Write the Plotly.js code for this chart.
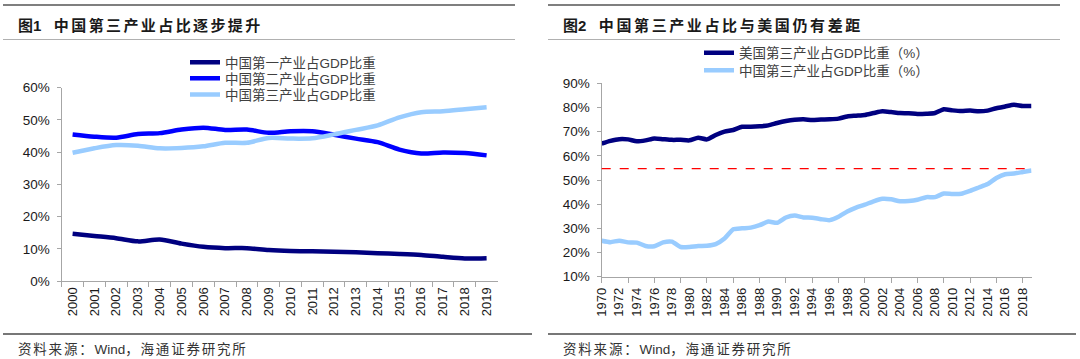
<!DOCTYPE html>
<html>
<head>
<meta charset="utf-8">
<script src="https://cdn.plot.ly/plotly-3.0.1.min.js"></script>
<style>
html,body{margin:0;padding:0;background:#fff;}
#chart{width:1080px;height:359px;}
</style>
</head>
<body>
<div id="chart"></div>
<script>
// ---------- Data: Figure 1 (China GDP structure, %) ----------
const years1 = ['2000','2001','2002','2003','2004','2005','2006','2007','2008','2009',
                '2010','2011','2012','2013','2014','2015','2016','2017','2018','2019'];
const primaryShare   = [14.7,14.0,13.3,12.3,12.9,11.6,10.6,10.2,10.2,9.6,9.3,9.2,9.1,8.9,8.6,8.4,8.1,7.5,7.0,7.1];
const secondaryShare = [45.5,44.8,44.5,45.6,45.9,47.0,47.6,46.9,47.0,46.0,46.5,46.5,45.4,44.2,43.1,40.8,39.6,39.9,39.7,39.0];
const tertiaryShare  = [39.8,41.2,42.2,42.0,41.2,41.3,41.8,42.9,42.9,44.4,44.2,44.3,45.5,46.9,48.3,50.8,52.4,52.7,53.3,53.9];
const names1 = ['中国第一产业占GDP比重','中国第二产业占GDP比重','中国第三产业占GDP比重'];

// ---------- Data: Figure 2 (tertiary share, US vs China, %) ----------
const years2 = [1970,1971,1972,1973,1974,1975,1976,1977,1978,1979,
                1980,1981,1982,1983,1984,1985,1986,1987,1988,1989,
                1990,1991,1992,1993,1994,1995,1996,1997,1998,1999,
                2000,2001,2002,2003,2004,2005,2006,2007,2008,2009,
                2010,2011,2012,2013,2014,2015,2016,2017,2018,2019];
const usTertiary = [65.1,66.2,66.9,66.8,66.0,66.4,67.2,66.9,66.6,66.6,
                    66.4,67.5,66.8,68.6,70.0,70.7,72.0,72.0,72.2,72.6,
                    73.6,74.4,74.9,75.1,74.8,75.0,75.1,75.4,76.3,76.6,
                    76.9,77.7,78.4,78.1,77.7,77.6,77.3,77.4,77.7,79.3,
                    78.8,78.5,78.7,78.4,78.7,79.7,80.4,81.1,80.6,80.6];
const cnTertiary = [24.9,24.3,24.9,24.2,24.1,22.7,22.6,24.2,24.5,22.3,
                    22.3,22.7,22.8,23.5,25.8,29.6,30.0,30.3,31.3,32.8,
                    32.3,34.5,35.3,34.5,34.4,33.8,33.4,34.8,37.0,38.6,
                    39.8,41.2,42.2,42.0,41.2,41.3,41.8,42.9,42.9,44.4,
                    44.2,44.3,45.5,46.9,48.3,50.8,52.4,52.7,53.3,53.9];
const refLevel = [54.7];
const names2 = ['美国第三产业占GDP比重（%）','中国第三产业占GDP比重（%）'];

// ---------- Text ----------
const title1 = ['图1','中国第三产业占比逐步提升'];
const title2 = ['图2','中国第三产业占比与美国仍有差距'];
const sourceParts = ['资料来源：','Wind','，海通证券研究所'];

// ---------- Styles ----------
const FONT = 'Liberation Sans, Arial, Noto Sans CJK SC, sans-serif';
const CJK = 'Liberation Sans, Noto Sans CJK SC, sans-serif';
const NAVY = '#000080', BLUE = '#0000FF', LIGHT = '#99CCFF';
const AX = '#a6a6a6';
const W = 1080, H = 359;
const px = v => v / W;
const py = v => 1 - v / H;

const traces = [
  {x: years1, y: primaryShare, name: names1[0], type:'scatter', mode:'lines',
   line:{color:NAVY, width:4.5, shape:'spline', smoothing:0.8}, xaxis:'x', yaxis:'y', legend:'legend'},
  {x: years1, y: secondaryShare, name: names1[1], type:'scatter', mode:'lines',
   line:{color:BLUE, width:4.5, shape:'spline', smoothing:0.8}, xaxis:'x', yaxis:'y', legend:'legend2'},
  {x: years1, y: tertiaryShare, name: names1[2], type:'scatter', mode:'lines',
   line:{color:LIGHT, width:4.5, shape:'spline', smoothing:0.8}, xaxis:'x', yaxis:'y', legend:'legend3'},
  {x: years2, y: usTertiary, name: names2[0], type:'scatter', mode:'lines',
   line:{color:NAVY, width:4.5, shape:'spline', smoothing:0.6}, xaxis:'x2', yaxis:'y2', legend:'legend4'},
  {x: years2, y: cnTertiary, name: names2[1], type:'scatter', mode:'lines',
   line:{color:LIGHT, width:4.5, shape:'spline', smoothing:0.6}, xaxis:'x3', yaxis:'y2', legend:'legend5'}
];

const tickFontY = {family: FONT, size: 13.5, color:'#1a1a1a'};
const tickFontX = {family: FONT, size: 13, color:'#1a1a1a'};

function legendAt(xLeft, rowCenter) {
  return {
    x:px(xLeft), xanchor:'left', y:py(rowCenter - 14), yanchor:'top',
    bgcolor:'rgba(0,0,0,0)', borderwidth:0, tracegroupgap:0,
    font:{family:CJK, size:13.5, color:'#404040'}
  };
}

const layout = {
  width: W, height: H,
  margin:{l:0,r:0,t:0,b:0,pad:0},
  paper_bgcolor:'#fff', plot_bgcolor:'rgba(0,0,0,0)',
  showlegend:true,
  xaxis:{
    type:'category', domain:[px(61.7), px(497.5)], range:[-0.5,19.5], anchor:'y',
    tickson:'boundaries', ticks:'outside', ticklen:5, tickcolor:AX, tickwidth:1,
    showline:true, linecolor:AX, linewidth:1.2, showgrid:false, zeroline:false,
    tickangle:-90, tickfont:tickFontX, fixedrange:true
  },
  yaxis:{
    domain:[py(281), py(87.7)], range:[0,60], dtick:10, tick0:0, anchor:'x',
    ticksuffix:'%', ticks:'outside', ticklen:4, tickcolor:AX,
    showline:true, linecolor:AX, linewidth:1.2, showgrid:false, zeroline:false,
    tickfont:tickFontY, ticklabelstandoff:4, fixedrange:true
  },
  xaxis2:{
    domain:[px(601.7), px(1031.5)], range:[1970,2019], anchor:'y2',
    tick0:1970, dtick:3, ticks:'outside', ticklen:5, tickcolor:AX,
    showticklabels:false,
    showline:true, linecolor:AX, linewidth:1.2, showgrid:false, zeroline:false, fixedrange:true
  },
  xaxis3:{
    overlaying:'x2', anchor:'y2', side:'bottom', range:[1970,2019],
    tick0:1970, dtick:2, ticks:'outside', ticklen:5, tickcolor:'rgba(0,0,0,0)',
    showline:false, showgrid:false, zeroline:false,
    tickangle:-90, tickfont:tickFontX, fixedrange:true
  },
  yaxis2:{
    domain:[py(276.7), py(83.3)], range:[10,90], dtick:10, tick0:10, anchor:'x2',
    ticksuffix:'%', ticks:'outside', ticklen:4, tickcolor:AX,
    showline:true, linecolor:AX, linewidth:1.2, showgrid:false, zeroline:false,
    tickfont:tickFontY, ticklabelstandoff:4, fixedrange:true
  },
  legend:  legendAt(185, 61),
  legend2: legendAt(185, 77),
  legend3: legendAt(185, 93.3),
  legend4: legendAt(699, 51.5),
  legend5: legendAt(699, 69),
  shapes:[
    // panel rules
    {type:'line', xref:'paper', yref:'paper', x0:px(3), x1:px(515), y0:py(5), y1:py(5), line:{color:'#555', width:1.5}},
    {type:'line', xref:'paper', yref:'paper', x0:px(3), x1:px(515), y0:py(39.5), y1:py(39.5), line:{color:'#b0b0b0', width:1}},
    {type:'line', xref:'paper', yref:'paper', x0:px(3), x1:px(532), y0:py(334), y1:py(334), line:{color:'#777', width:2}},
    {type:'line', xref:'paper', yref:'paper', x0:px(548), x1:px(1060), y0:py(5), y1:py(5), line:{color:'#555', width:1.5}},
    {type:'line', xref:'paper', yref:'paper', x0:px(548), x1:px(1060), y0:py(39.5), y1:py(39.5), line:{color:'#b0b0b0', width:1}},
    {type:'line', xref:'paper', yref:'paper', x0:px(548), x1:px(1076), y0:py(334), y1:py(334), line:{color:'#777', width:2}},
    // reference level
    {type:'line', xref:'x2 domain', yref:'y2', x0:0, x1:1, y0:refLevel[0], y1:refLevel[0],
     line:{color:'#FF0000', width:1.2, dash:'dash'}}
  ],
  annotations:[
    {xref:'paper', yref:'paper', x:px(16), y:py(25), xanchor:'left', yanchor:'middle', showarrow:false,
     text:'<b>'+title1[0]+'</b>\u00a0\u00a0\u00a0<span style="letter-spacing:2.4px"><b>'+title1[1]+'</b></span>',
     font:{family:CJK, size:15, color:'#1a1a1a'}},
    {xref:'paper', yref:'paper', x:px(561), y:py(25), xanchor:'left', yanchor:'middle', showarrow:false,
     text:'<b>'+title2[0]+'</b>\u00a0\u00a0\u00a0<span style="letter-spacing:2.6px"><b>'+title2[1]+'</b></span>',
     font:{family:CJK, size:15, color:'#1a1a1a'}},
    {xref:'paper', yref:'paper', x:px(16), y:py(349), xanchor:'left', yanchor:'middle', showarrow:false,
     text:'<span style="letter-spacing:1.8px">'+sourceParts[0]+'</span>'+sourceParts[1]+'<span style="letter-spacing:1.8px">'+sourceParts[2]+'</span>',
     font:{family:CJK, size:13.5, color:'#333'}},
    {xref:'paper', yref:'paper', x:px(561), y:py(349), xanchor:'left', yanchor:'middle', showarrow:false,
     text:'<span style="letter-spacing:1.8px">'+sourceParts[0]+'</span>'+sourceParts[1]+'<span style="letter-spacing:1.8px">'+sourceParts[2]+'</span>',
     font:{family:CJK, size:13.5, color:'#333'}}
  ]
};

Plotly.newPlot('chart', traces, layout, {displayModeBar:false, staticPlot:true});
</script>
</body>
</html>
